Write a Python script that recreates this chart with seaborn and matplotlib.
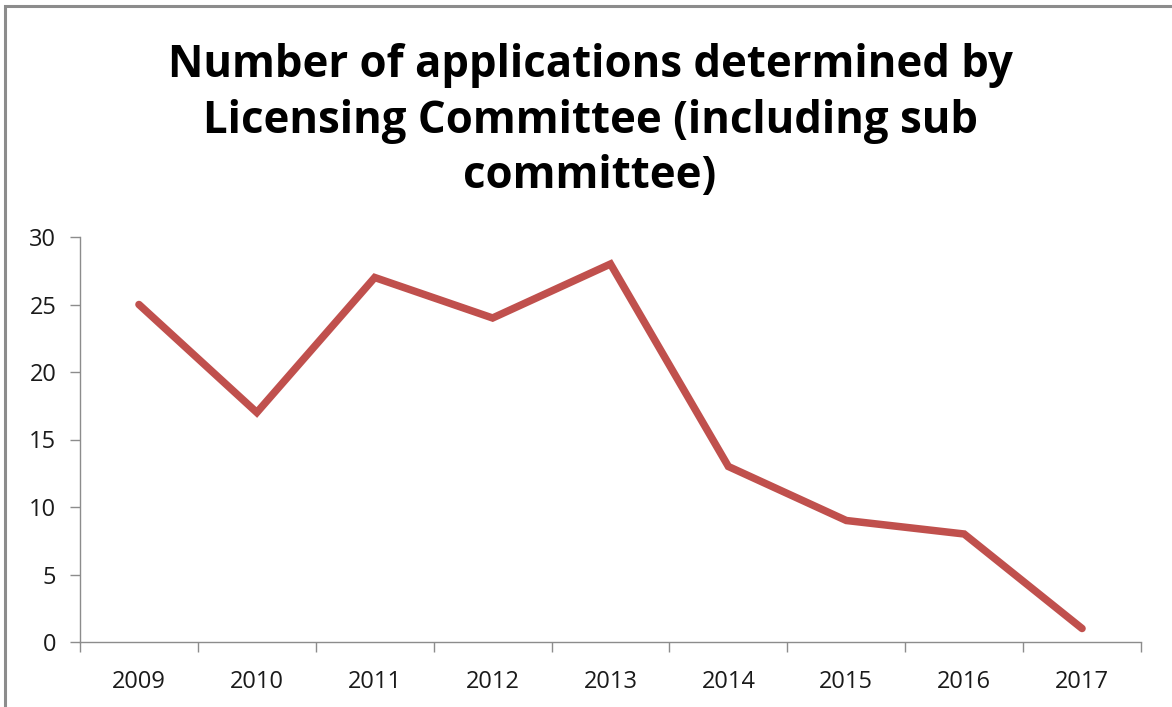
import matplotlib
matplotlib.use("Agg")
import matplotlib.pyplot as plt
from matplotlib.patches import Rectangle
import seaborn as sns
import pandas as pd

years = ["2009", "2010", "2011", "2012", "2013", "2014", "2015", "2016", "2017"]
applications = [25, 17, 27, 24, 28, 13, 9, 8, 1]
y_ticks = [0, 5, 10, 15, 20, 25, 30]
title = "Number of applications determined by\nLicensing Committee (including sub\ncommittee)"

sns.set_theme(style="white")
plt.rcParams["font.family"] = ["Open Sans", "DejaVu Sans"]

df = pd.DataFrame({"year": years, "applications": applications})
df["pos"] = range(len(years))

fig = plt.figure(figsize=(11.72, 7.07), dpi=100)
fig.patch.set_facecolor("white")

# outer chart frame (only top and left edges fall inside the canvas)
fig.patches.append(Rectangle((5 / 1172, -0.1), 1.2, 1.1 - 6 / 707,
                             transform=fig.transFigure, fill=False,
                             edgecolor="#8c8c8c", linewidth=2.2, zorder=0))

ax = fig.add_axes([80 / 1172, 1 - 642 / 707, (1141 - 80) / 1172, (642 - 237) / 707])
sns.lineplot(data=df, x="pos", y="applications", ax=ax, color="#C0504D",
             linewidth=5.4, solid_capstyle="round", solid_joinstyle="miter")

ax.set_xlim(-0.5, len(years) - 0.5)
ax.set_ylim(0, 30)
ax.set_yticks(y_ticks)
ax.set_yticklabels([str(v) for v in y_ticks])
ax.set_xticks(df["pos"])
ax.set_xticklabels(years)
ax.set_xticks([i - 0.5 for i in range(len(years) + 1)], minor=True)
ax.set_xlabel("")
ax.set_ylabel("")

for side in ["top", "right"]:
    ax.spines[side].set_visible(False)
for side in ["left", "bottom"]:
    ax.spines[side].set_color("#8c8c8c")
    ax.spines[side].set_linewidth(1.0)

ax.tick_params(axis="y", which="major", left=True, length=7, width=1.0,
               color="#8c8c8c", labelsize=17, labelcolor="#1a1a1a", pad=10)
ax.tick_params(axis="x", which="major", bottom=False, labelsize=17,
               labelcolor="#1a1a1a", pad=14)
ax.tick_params(axis="x", which="minor", bottom=True, length=7, width=1.0,
               color="#8c8c8c")

fig.text(590 / 1172, 1 - 121 / 707, title, ha="center", va="center",
         fontsize=31.5, fontweight="bold", color="black", linespacing=1.32)

fig.savefig("out.png", dpi=100, facecolor="white")
